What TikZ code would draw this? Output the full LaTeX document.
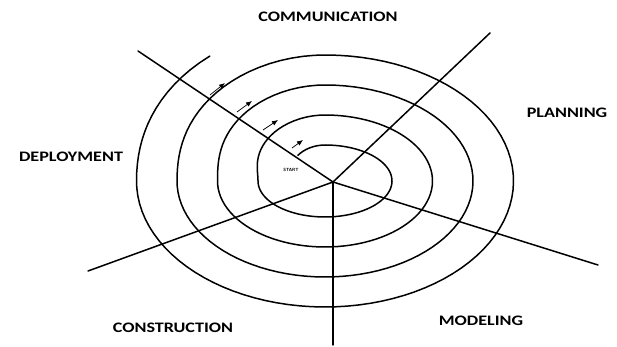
\documentclass[tikz,border=0pt]{standalone}
\usepackage{fontspec}
\newfontfamily\phasefont[FakeStretch=1.25]{Carlito}
\usetikzlibrary{arrows.meta}

\begin{document}
\begin{tikzpicture}[
    x=1pt, y=1pt,
    phase/.style={font=\phasefont\bfseries\fontsize{14.5}{16}\selectfont, inner sep=0pt},
    spoke/.style={line width=1.5pt, draw=black, line cap=round},
    flow/.style={-{Latex[length=6pt,width=5pt]}, line width=0.7pt},
    declare function={ramp(\s)=min(max((mod(\s,360)-270)/90,0),1);
                      grow(\s)=floor(\s/360)-1+ramp(\s)*ramp(\s)*(3-2*ramp(\s));}
  ]
  \useasboundingbox (0,0) rectangle (617,347);

  % Spokes
  \coordinate (c) at (333,165);
  \coordinate (ul) at (138,296);
  \coordinate (ur) at (490,314);
  \coordinate (rt) at (598,82);
  \coordinate (ll) at (88,76);
  \coordinate (dn) at (333,2);
  \foreach \e in {ul,ur,rt,ll,dn}
    \draw[spoke] (c) -- (\e);

  % Spiral
  \draw[spoke] plot[variable=\s, domain=332:1768, samples=400]
    ({325+(67+40.5*grow(\s))*sin(\s)}, {166+(36+30*grow(\s))*cos(\s)});

  % Flow arrows
  \foreach \i/\xa/\ya/\xb/\yb in {1/210/252/225/264, 2/237/235/252/246,
                                  3/263/217/278/227, 4/292/199/303/207} {
    \coordinate (f\i a) at (\xa,\ya);
    \coordinate (f\i b) at (\xb,\yb);
    \draw[flow] (f\i a) -- (f\i b);
  }

  \node[font=\sffamily\bfseries\fontsize{4.5}{5}\selectfont, inner sep=0pt]
    (start) at (291,177) {START};

  % Phases
  \node[phase] (comm) at (328,330) {COMMUNICATION};
  \node[phase] (plan) at (567,234) {PLANNING};
  \node[phase] (model) at (481,26) {MODELING};
  \node[phase] (cons) at (173,19) {CONSTRUCTION};
  \node[phase] (depl) at (71,190) {DEPLOYMENT};
\end{tikzpicture}
\end{document}
